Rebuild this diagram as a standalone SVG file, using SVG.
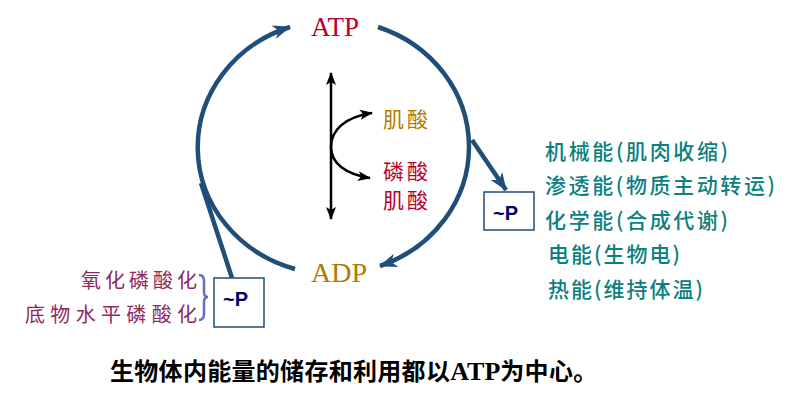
<svg xmlns="http://www.w3.org/2000/svg" width="796" height="404" viewBox="0 0 796 404">
<style>
.arc{fill:none;stroke:#1F4E79;stroke-width:4.5;stroke-linecap:butt}
.blk{fill:none;stroke:#000;stroke-width:2.5}
.cjk{font-family:"Noto Sans CJK SC","Noto Sans CJK TC",sans-serif}
.ser{font-family:"Liberation Serif","Times New Roman",serif}
.rt{font-size:21px;fill:#0A8080;font-weight:500}
.lt{font-size:20px;fill:#8E2A5E;text-anchor:end}
.box{fill:#fff;stroke:#1F4E79;stroke-width:1.5}
.pt{font-family:"Liberation Sans",Arial,sans-serif;font-weight:bold;font-size:20px;fill:#000066}
</style>
<defs>
<marker id="ab" markerUnits="userSpaceOnUse" markerWidth="20" markerHeight="16" refX="17" refY="8" orient="auto">
<path d="M0,1 L18,8 L0,15 L5,8 z" fill="#1F4E79"/>
</marker>
<marker id="ak" markerUnits="userSpaceOnUse" markerWidth="14" markerHeight="12" refX="12" refY="6" orient="auto">
<path d="M0,1 L13,6 L0,11 L3,6 z" fill="#000"/>
</marker>
<marker id="aks" markerUnits="userSpaceOnUse" markerWidth="14" markerHeight="12" refX="1" refY="6" orient="auto">
<path d="M13,1 L0,6 L13,11 L10,6 z" fill="#000"/>
</marker>
</defs>
<g id="connectors">
<path class="arc" d="M295 269 A136 127 0 0 1 290 27" marker-end="url(#ab)"/>
<path class="arc" d="M378 27 A136 127 0 0 1 380 266" marker-end="url(#ab)"/>
<path class="arc" d="M472 140 L506 190" marker-end="url(#ab)"/>
<path class="arc" d="M201 183 L232 278"/>
<path class="blk" d="M331 73 L331 219" marker-start="url(#aks)" marker-end="url(#ak)"/>
<path class="blk" d="M331 147 C331 130 345 117 372 113" marker-end="url(#ak)"/>
<path class="blk" d="M331 147 C331 163 345 174 370 178" marker-end="url(#ak)"/>
</g>
<g id="atp"><text class="ser" x="335" y="36" font-size="27" fill="#B8002E" text-anchor="middle">ATP</text></g>
<g id="adp"><text class="ser" x="339" y="282" font-size="28" fill="#B07A00" text-anchor="middle">ADP</text></g>
<g id="creatine"><text class="cjk" x="383" y="127" font-size="21" fill="#B07A00" textLength="45" lengthAdjust="spacing">肌酸</text></g>
<g id="phosphocreatine">
<text class="cjk" x="383" y="179" font-size="21" fill="#B8002E" textLength="45" lengthAdjust="spacing">磷酸</text>
<text class="cjk" x="383" y="208" font-size="21" fill="#B8002E" textLength="45" lengthAdjust="spacing">肌酸</text>
</g>
<g id="p-right">
<rect class="box" x="484" y="192" width="50" height="38"/>
<text class="pt" x="493" y="220">~P</text>
</g>
<g id="p-left">
<rect class="box" x="214" y="278" width="50" height="49"/>
<text class="pt" x="223" y="306">~P</text>
</g>
<g id="uses">
<text class="cjk rt" x="545" y="159" textLength="183" lengthAdjust="spacing">机械能(肌肉收缩)</text>
<text class="cjk rt" x="545" y="193" textLength="230" lengthAdjust="spacing">渗透能(物质主动转运)</text>
<text class="cjk rt" x="545" y="228" textLength="183" lengthAdjust="spacing">化学能(合成代谢)</text>
<text class="cjk rt" x="548" y="262" textLength="132" lengthAdjust="spacing">电能(生物电)</text>
<text class="cjk rt" x="548" y="297" textLength="155" lengthAdjust="spacing">热能(维持体温)</text>
</g>
<g id="sources">
<text class="cjk lt" x="197" y="288" textLength="116" lengthAdjust="spacing">氧化磷酸化</text>
<text class="cjk lt" x="197" y="322" textLength="172" lengthAdjust="spacing">底物水平磷酸化</text>
<path d="M199 275 Q204 275 204 281 L204 292 Q204 297 208 297 Q204 297 204 302 L204 314 Q204 320 199 320" fill="none" stroke="#6A6AC8" stroke-width="2.5"/>
</g>
<g id="caption">
<text class="cjk" x="110" y="380" font-size="24" font-weight="bold" fill="#000" letter-spacing="0.3">生物体内能量的储存和利用都以<tspan class="ser" font-size="26" letter-spacing="0">ATP</tspan>为中心。</text>
</g>
</svg>
